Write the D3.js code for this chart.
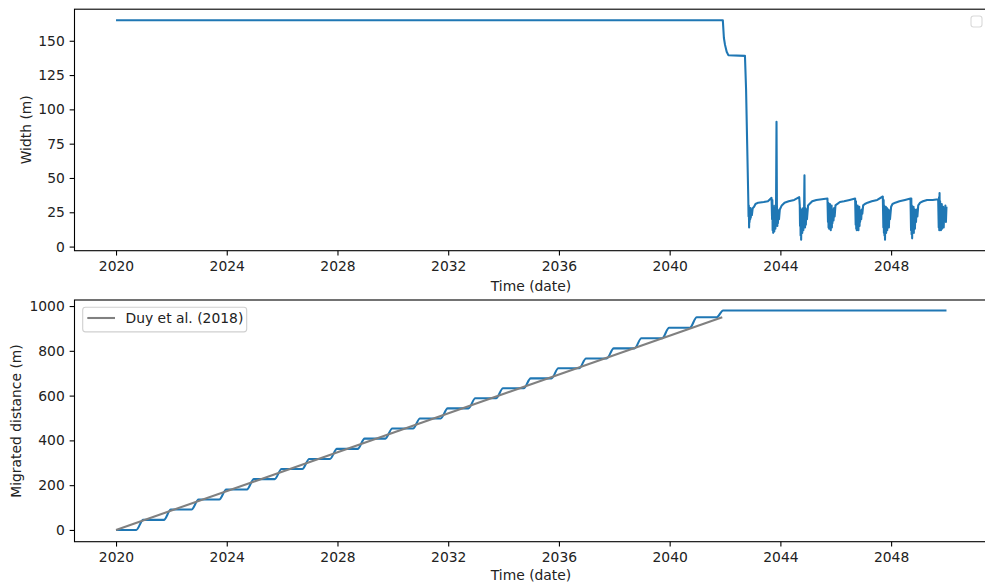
<!DOCTYPE html>
<html>
<head>
<meta charset="utf-8">
<script src="https://cdn.jsdelivr.net/npm/d3@7"></script>
<style>
  body { margin: 0; background: #fff; }
  svg { display: block; font-family: "DejaVu Sans", sans-serif; }
</style>
</head>
<body>
<div id="chart"></div>
<script>

var width = 985;
var height = 583;

// ticks
var xTicks = [2020, 2024, 2028, 2032, 2036, 2040, 2044, 2048];
var widthTicks = [0, 25, 50, 75, 100, 125, 150];
var distTicks = [0, 200, 400, 600, 800, 1000];

// top panel: channel width (m), [year, width]
var widthData = [
  [2020.0,165],[2041.92,165],[2041.96,152],[2042.0,147],[2042.06,142],[2042.12,139.5],[2042.72,139],[2042.76,115],[2042.80,75],[2042.84,35],
  [2042.85,22],[2042.86,30],[2042.87,14],[2042.88,27],[2042.89,18],[2042.9,26],[2042.91,20],[2042.92,28],[2042.93,21],[2042.95,26],[2042.97,23],[2043.0,28],[2043.05,29],[2043.1,31],[2043.2,32],[2043.4,32.5],[2043.55,33],[2043.68,35.5],
  [2043.7,20],[2043.71,34],[2043.72,12],[2043.73,30],[2043.74,10],[2043.75,28],[2043.76,14],[2043.77,26],[2043.78,11],[2043.79,24],[2043.8,15],[2043.81,30],[2043.82,13],[2043.83,25],[2043.84,18],[2043.85,55],[2043.86,91],[2043.875,30],[2043.89,15],[2043.9,27],[2043.91,17],[2043.93,26],[2043.95,20],[2043.98,27],[2044.05,30],[2044.15,32],[2044.3,33],[2044.5,34],[2044.68,36],
  [2044.7,30],[2044.71,15],[2044.72,28],[2044.73,8],[2044.74,26],[2044.75,5],[2044.76,24],[2044.77,12],[2044.78,27],[2044.79,10],[2044.8,22],[2044.81,14],[2044.82,28],[2044.83,12],[2044.84,25],[2044.85,16],[2044.86,35],[2044.87,52],[2044.88,20],[2044.89,14],[2044.9,28],[2044.92,16],[2044.94,27],[2044.96,20],[2045.0,30],[2045.05,31],[2045.15,33],[2045.3,34],[2045.5,34.5],[2045.7,35],
  [2045.72,18],[2045.73,32],[2045.74,14],[2045.75,30],[2045.76,13],[2045.77,28],[2045.78,17],[2045.79,31],[2045.8,15],[2045.81,27],[2045.82,12],[2045.83,26],[2045.84,18],[2045.85,30],[2045.86,14],[2045.87,25],[2045.88,17],[2045.9,27],[2045.92,19],[2045.94,28],[2045.96,22],[2045.99,30],[2046.05,31],[2046.15,32.5],[2046.3,33],[2046.5,34],[2046.7,35],
  [2046.72,16],[2046.73,33],[2046.74,13],[2046.75,29],[2046.76,12],[2046.77,27],[2046.78,16],[2046.79,30],[2046.8,14],[2046.81,26],[2046.82,12],[2046.83,25],[2046.84,17],[2046.85,29],[2046.86,15],[2046.87,24],[2046.88,18],[2046.9,26],[2046.92,20],[2046.94,27],[2046.96,24],[2046.99,30],[2047.05,31],[2047.15,32],[2047.3,33],[2047.5,34],[2047.7,36.5],
  [2047.72,14],[2047.73,34],[2047.74,10],[2047.75,30],[2047.76,8],[2047.77,27],[2047.78,5],[2047.79,25],[2047.8,12],[2047.81,29],[2047.82,10],[2047.83,24],[2047.84,15],[2047.85,28],[2047.86,12],[2047.87,25],[2047.88,17],[2047.9,27],[2047.92,14],[2047.94,26],[2047.96,20],[2048.0,29],[2048.05,31],[2048.15,32],[2048.3,33],[2048.5,34],[2048.7,35],
  [2048.72,12],[2048.73,35],[2048.74,9],[2048.75,30],[2048.76,6],[2048.77,28],[2048.78,11],[2048.79,26],[2048.8,14],[2048.81,29],[2048.82,10],[2048.83,25],[2048.84,16],[2048.85,27],[2048.86,13],[2048.88,25],[2048.9,18],[2048.92,27],[2048.95,22],[2048.98,30],[2049.05,32],[2049.15,33],[2049.3,34],[2049.5,34],[2049.7,34.5],
  [2049.72,14],[2049.73,36],[2049.74,12],[2049.75,39],[2049.76,13],[2049.77,33],[2049.78,15],[2049.79,30],[2049.8,12],[2049.81,27],[2049.82,16],[2049.83,31],[2049.84,13],[2049.85,28],[2049.86,17],[2049.88,29],[2049.9,14],[2049.92,27],[2049.94,20],[2049.96,30],[2049.98,18],[2050.0,29]
];

// bottom panel: migrated distance (m), [year, distance]
var migratedData = [
  [2020.0,0],[2020.73,0],[2020.98,45],[2021.73,45],[2021.98,91],[2022.73,91],[2022.98,136],[2023.73,136],
  [2023.98,181],[2024.73,181],[2024.98,227],[2025.73,227],[2025.98,272],[2026.73,272],[2026.98,317],[2027.73,317],
  [2027.98,362],[2028.73,362],[2028.98,408],[2029.73,408],[2029.98,453],[2030.73,453],[2030.98,498],[2031.73,498],
  [2031.98,543],[2032.73,543],[2032.98,588],[2033.73,588],[2033.98,633],[2034.73,633],[2034.98,677],[2035.73,677],
  [2035.98,722],[2036.73,722],[2036.98,766],[2037.73,766],[2037.98,811],[2038.73,811],[2038.98,856],[2039.73,856],
  [2039.98,903],[2040.73,903],[2040.98,950],[2041.70,950],[2041.93,980],[2050.0,980]
];

// Duy et al. (2018) reference rate
var duyData = [[2020.0, 0], [2041.9, 950]];

var blue = "#1f77b4";
var fontSize = 13.89;

var axLeft = 74.5, axRight = 988;
var top1 = 9.2, bottom1 = 250.7;
var top2 = 300, bottom2 = 541.7;

var x = d3.scaleLinear()
  .domain([2018.5, 2051.5])
  .range([axLeft, axRight]);

var yW = d3.scaleLinear()
  .domain([-3, 173])
  .range([bottom1, top1]);

var yD = d3.scaleLinear()
  .domain([-52.5, 1027])
  .range([bottom2, top2]);

const svg = d3.select("#chart").append("svg")
  .attr("width", width)
  .attr("height", height);

function xAxis(g, bottom) {
  g.attr("transform", `translate(0,${bottom})`)
    .call(d3.axisBottom(x).tickValues(xTicks).tickFormat(d3.format("d")).tickSize(4.86).tickPadding(6))
    .call(g => g.select(".domain").remove())
  g.selectAll(".tick line").attr("stroke", "#000").attr("stroke-width", 1.1)
  g.selectAll(".tick text").attr("fill", "#222").style("font-size", fontSize + "px").style("font-family", "DejaVu Sans")
}

function yAxis(g, y, ticks) {
  g.attr("transform", `translate(${axLeft},0)`)
    .call(d3.axisLeft(y).tickValues(ticks).tickFormat(d3.format("d")).tickSize(4.86).tickPadding(4.86))
    .call(g => g.select(".domain").remove())
  g.selectAll(".tick line").attr("stroke", "#000").attr("stroke-width", 1.1)
  g.selectAll(".tick text").attr("fill", "#222").style("font-size", fontSize + "px").style("font-family", "DejaVu Sans")
}

function frame(top, bottom) {
  svg.append("rect")
    .attr("x", axLeft)
    .attr("y", top)
    .attr("width", axRight - axLeft)
    .attr("height", bottom - top)
    .attr("fill", "none")
    .attr("stroke", "#000")
    .attr("stroke-width", 1.1)
}

function label(text, px, py, rotate) {
  svg.append("text")
    .attr("transform", `translate(${px},${py})` + (rotate ? "rotate(-90)" : ""))
    .attr("text-anchor", "middle")
    .attr("dy", rotate ? "0.3em" : 0)
    .attr("fill", "#222")
    .style("font-size", fontSize + "px")
    .text(text)
}

// ---- top panel ----
var widthLine = d3.line()
  .x(d => x(d[0]))
  .y(d => yW(d[1]))

svg.append("path")
  .datum(widthData)
  .attr("d", widthLine)
  .attr("fill", "none")
  .attr("stroke", blue)
  .attr("stroke-width", 2.08)
  .attr("stroke-linejoin", "round")

frame(top1, bottom1)
svg.append("g").call(xAxis, bottom1)
svg.append("g").call(yAxis, yW, widthTicks)
label("Time (date)", 531, 291, false)
label("Width (m)", 26.7, 129.8, true)

// empty legend (no labelled artists)
svg.append("rect")
  .attr("x", 971)
  .attr("y", 16)
  .attr("width", 11)
  .attr("height", 11)
  .attr("rx", 2.5)
  .attr("fill", "#fff")
  .attr("stroke", "#d9d9d9")
  .attr("stroke-width", 1.1)

// ---- bottom panel ----
var migLine = d3.line()
  .x(d => x(d[0]))
  .y(d => yD(d[1]))
  .curve(d3.curveMonotoneX)

svg.append("path")
  .datum(migratedData)
  .attr("d", migLine)
  .attr("fill", "none")
  .attr("stroke", blue)
  .attr("stroke-width", 2.08)
  .attr("stroke-linejoin", "round")

svg.append("path")
  .datum(duyData)
  .attr("d", d3.line().x(d => x(d[0])).y(d => yD(d[1])))
  .attr("fill", "none")
  .attr("stroke", "gray")
  .attr("stroke-width", 2.08)

frame(top2, bottom2)
svg.append("g").call(xAxis, bottom2)
svg.append("g").call(yAxis, yD, distTicks)
label("Time (date)", 531, 580, false)
label("Migrated distance (m)", 16.7, 421, true)

// legend
const legend = svg.append("g")
legend.append("rect")
  .attr("x", 82.7)
  .attr("y", 307.3)
  .attr("width", 164)
  .attr("height", 24.6)
  .attr("rx", 2.8)
  .attr("fill", "#fff")
  .attr("fill-opacity", 0.8)
  .attr("stroke", "#d0d0d0")
  .attr("stroke-width", 1.1)
legend.append("line")
  .attr("x1", 87.3)
  .attr("x2", 115)
  .attr("y1", 318)
  .attr("y2", 318)
  .attr("stroke", "gray")
  .attr("stroke-width", 2.08)
legend.append("text")
  .attr("x", 125.5)
  .attr("y", 323)
  .attr("fill", "#222")
  .style("font-size", fontSize + "px")
  .text("Duy et al. (2018)")

</script>
</body>
</html>
